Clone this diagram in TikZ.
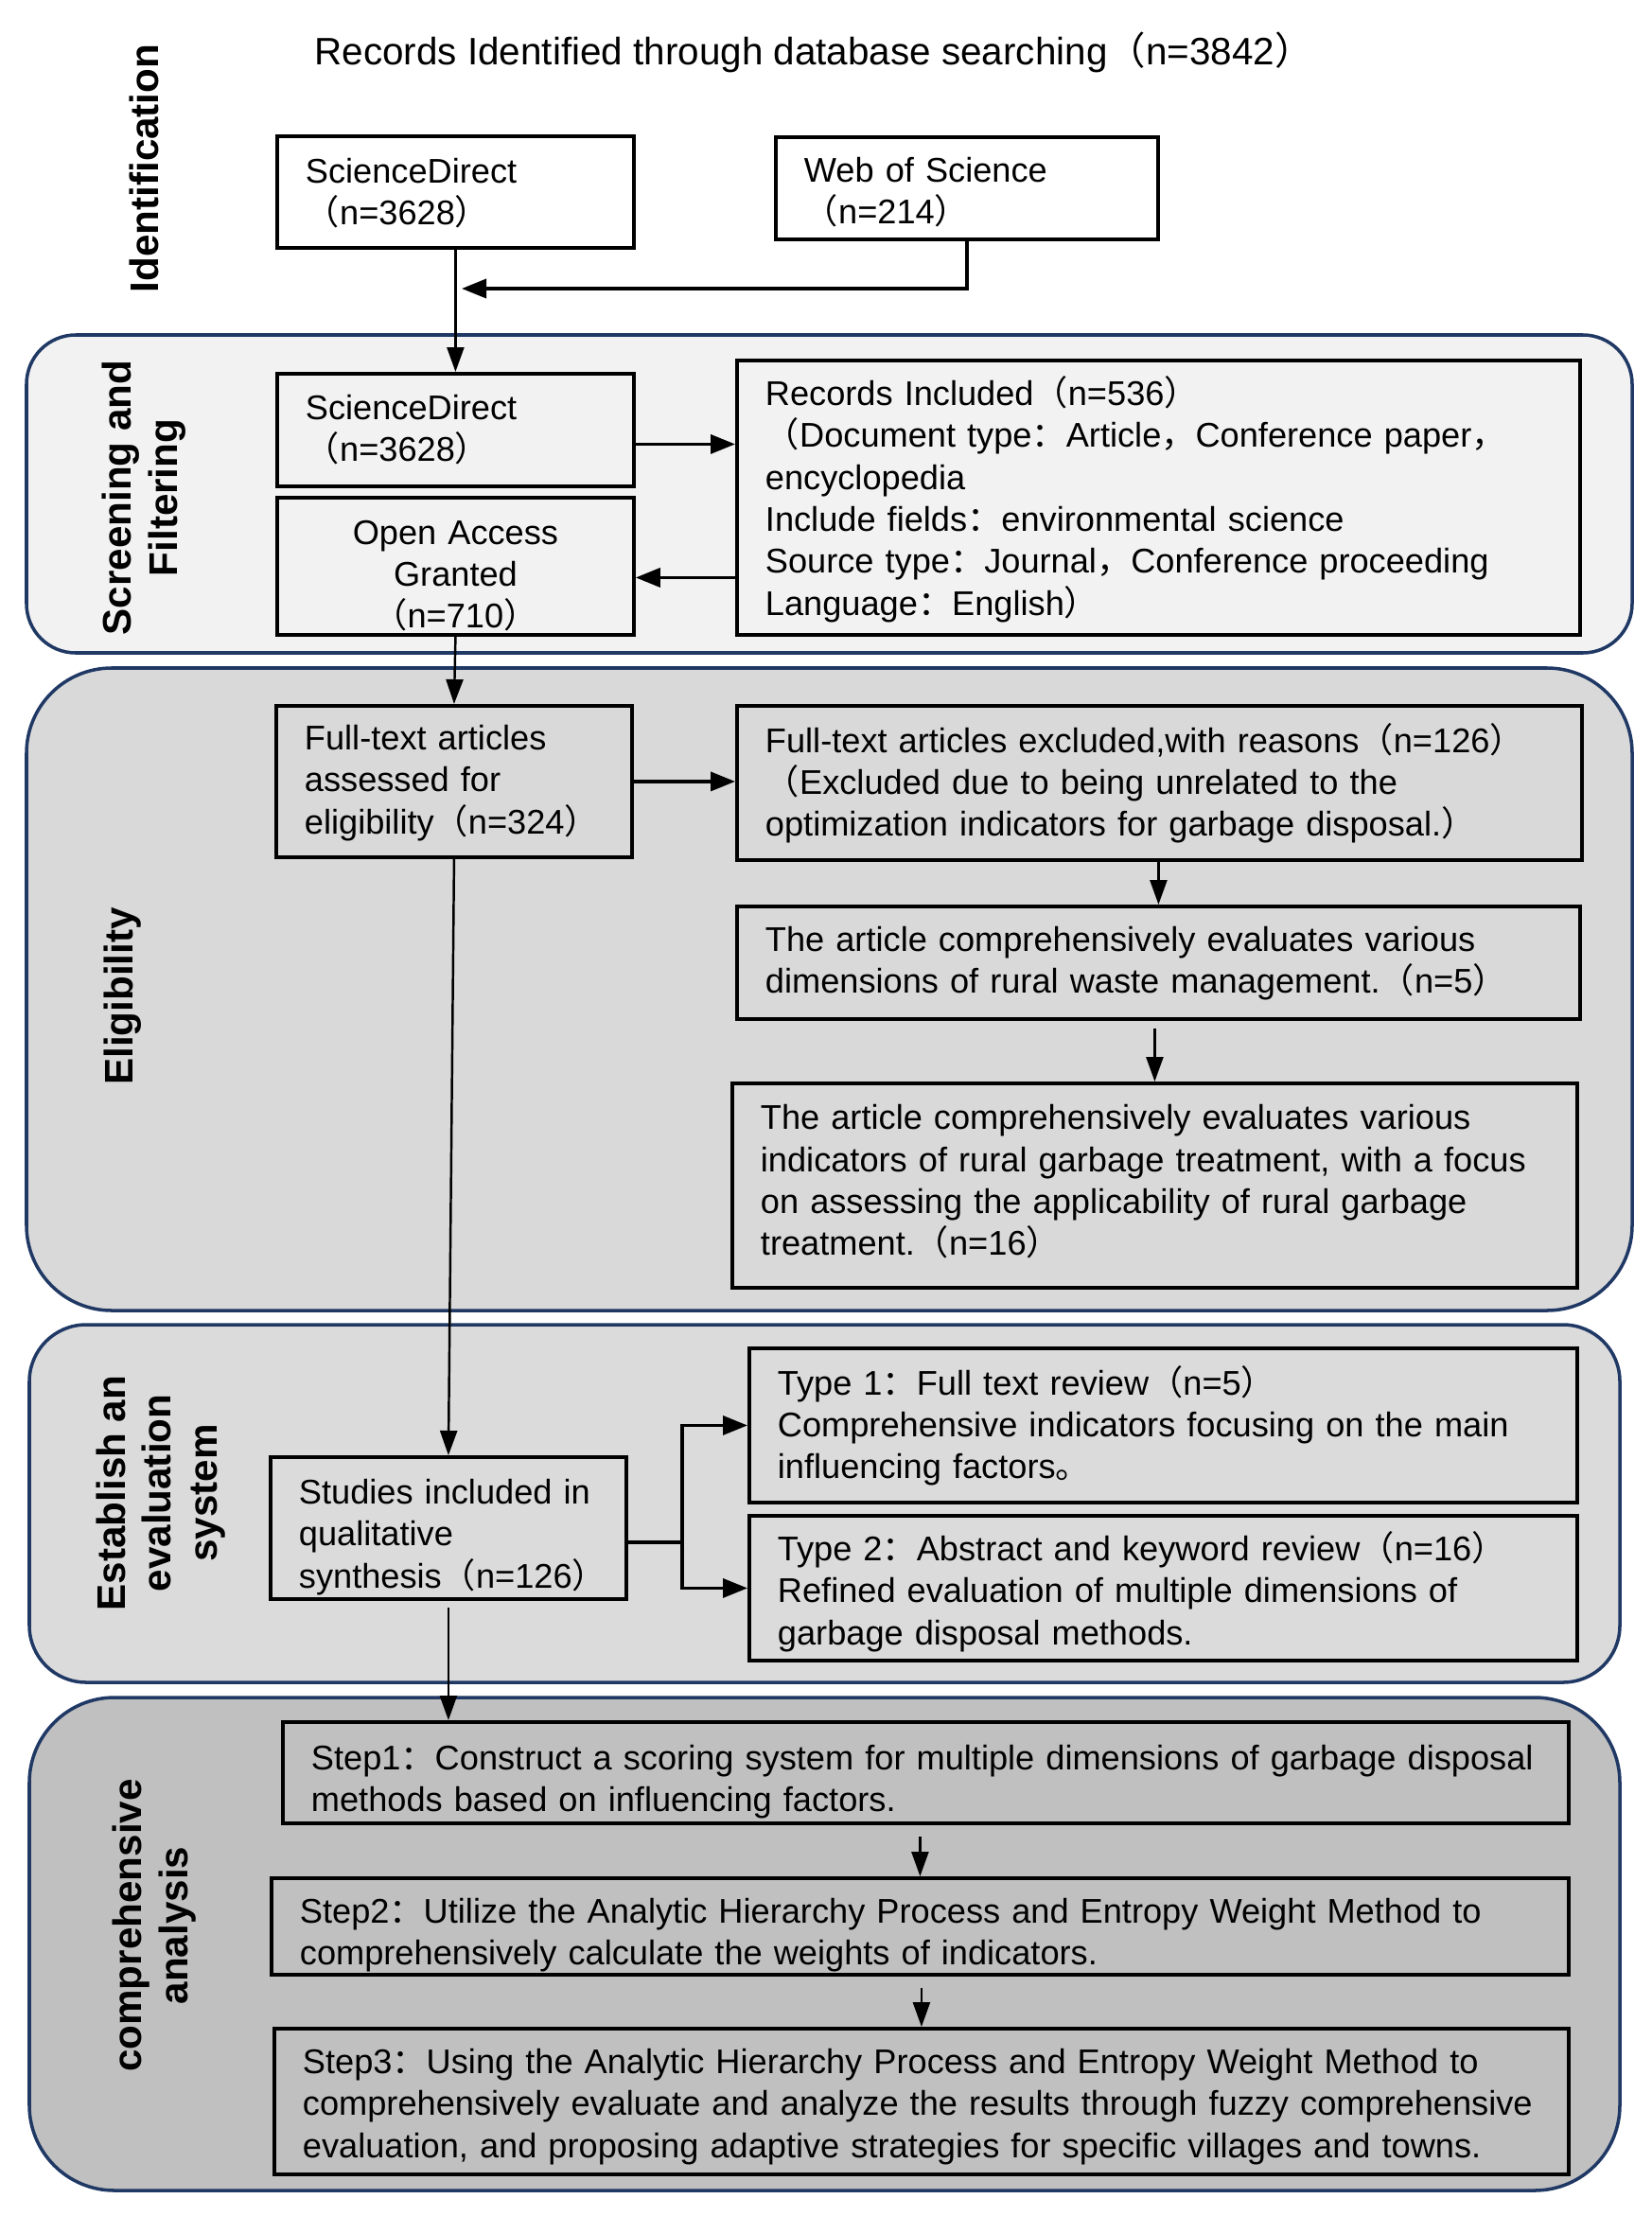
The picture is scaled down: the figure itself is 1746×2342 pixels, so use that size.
\documentclass[tikz,border=0pt]{standalone}
\usepackage{fontspec}
\setmainfont{Liberation Sans}
\newfontfamily\cjk{Noto Sans CJK SC}
\usetikzlibrary{arrows.meta,calc}
\definecolor{navy}{HTML}{1F3864}
\definecolor{scrfill}{HTML}{F2F2F2}
\definecolor{elifill}{HTML}{D9D9D9}
\definecolor{evafill}{HTML}{DBDBDB}
\definecolor{comfill}{HTML}{C0C0C0}
\newcommand\FWL{{\cjk （}}
\newcommand\FWR{{\cjk ）}}
\newcommand\FWC{{\cjk ：}}
\newcommand\FWM{{\cjk ，}}
\newcommand\FWS{{\cjk 。}}
\newcommand\ml[2][0]{\raisebox{-#1mm}[\height][\depth]{\begin{tabular}{@{}l@{}}#2\end{tabular}}}
\newcommand\mc[2][0]{\raisebox{-#1mm}[\height][\depth]{\begin{tabular}{@{}c@{}}#2\end{tabular}}}
\begin{document}
\begin{tikzpicture}[x=0.1mm,y=-0.1mm,
  bx/.style={draw, line width=1.1pt, anchor=north west, inner xsep=3mm, inner ysep=0pt,
    align=left, font=\fontsize{10.3}{12.6}\selectfont},
  panel/.style={draw=navy, line width=1pt},
  lbl/.style={font=\fontsize{12}{13.8}\selectfont\bfseries, align=center, inner sep=0pt},
  varr/.style={line width=0.7pt, -{Triangle[length=2.6mm,width=1.8mm]}},
  harr/.style={line width=1pt, -{Triangle[length=2.6mm,width=2mm]}}
  ]
\useasboundingbox (0,0) rectangle (1746,2342);
% panels
\draw[panel, fill=scrfill, rounded corners=5.2mm] (28,354) rectangle (1725,690);
\draw[panel, fill=elifill, rounded corners=9mm] (28,706) rectangle (1725,1385);
\draw[panel, fill=evafill, rounded corners=6mm] (31,1400) rectangle (1712,1778);
\draw[panel, fill=comfill, rounded corners=9mm] (31,1794) rectangle (1712,2315);

% labels
\node[lbl, rotate=90] (lid) at (152,178) {Identification};
\node[lbl, rotate=90] (lscr) at (152,526) {Screening and\\Filtering};
\node[lbl, rotate=90] (lel) at (130,1053) {Eligibility};
\node[lbl, rotate=90] (lev) at (170,1578) {Establish an\\evaluation\\system};
\node[lbl, rotate=90] (lco) at (163,2035) {comprehensive\\analysis};

% title
\node[font=\fontsize{11.5}{14}\selectfont, inner sep=0pt] (title) at (860,55)
  {Records Identified through database searching\FWL n=3842\FWR};

% identification
\node[bx, fill=white, minimum width=37.7mm, minimum height=11.8mm, text width=31.7mm] (sd1) at (291,142)
  {\ml[0.37]{ScienceDirect\\\FWL n=3628\FWR}};
\node[bx, fill=white, minimum width=40.4mm, minimum height=10.8mm, text width=34.4mm] (wos) at (818,143)
  {\ml[0.67]{Web of Science\\\FWL n=214\FWR}};

% screening
\node[bx, minimum width=37.7mm, minimum height=11.9mm, text width=31.7mm] (sd2) at (291,393)
  {\ml[0.22]{ScienceDirect\\\FWL n=3628\FWR}};
\node[bx, align=center, minimum width=37.7mm, minimum height=14.5mm, text width=31.7mm] (oa) at (291,524)
  {\mc[1.2]{Open Access\\Granted\\\FWL n=710\FWR}};
\node[bx, minimum width=89.1mm, minimum height=29.0mm, text width=83.1mm] (rec) at (777,379)
  {\ml[0.45]{Records Included\FWL n=536\FWR\\
  \FWL Document type\FWC Article\FWM Conference paper\FWM\\
  encyclopedia\\
  Include fields\FWC environmental science\\
  Source type\FWC Journal\FWM Conference proceeding\\
  Language\FWC English\FWR}};

% eligibility
\node[bx, minimum width=37.6mm, minimum height=16.0mm, text width=31.6mm] (ass) at (290,744)
  {\ml[0.2]{Full-text articles\\assessed for\\eligibility\FWL n=324\FWR}};
\node[bx, minimum width=89.3mm, minimum height=16.3mm, text width=83.3mm] (exc) at (777,744)
  {\ml[0.3]{Full-text articles excluded,with reasons\FWL n=126\FWR\\
  \FWL Excluded due to being unrelated to the\\
  optimization indicators for garbage disposal.\FWR}};
\node[bx, minimum width=89.1mm, minimum height=11.9mm, text width=83.1mm] (dim) at (777,956)
  {\ml[0.15]{The article comprehensively evaluates various\\
  dimensions of rural waste management.\FWL n=5\FWR}};
\node[bx, minimum width=89.3mm, minimum height=21.6mm, text width=83.3mm] (ind) at (772,1143)
  {\ml[-0.15]{The article comprehensively evaluates various\\
  indicators of rural garbage treatment, with a focus\\
  on assessing the applicability of rural garbage\\
  treatment.\FWL n=16\FWR}};

% evaluation
\node[bx, minimum width=37.6mm, minimum height=15.0mm, text width=31.6mm] (stu) at (284,1538)
  {\ml[1.0]{Studies included in\\qualitative\\synthesis\FWL n=126\FWR}};
\node[bx, minimum width=87.5mm, minimum height=16.3mm, text width=81.5mm] (t1) at (790,1423)
  {\ml[0.3]{Type 1\FWC Full text review\FWL n=5\FWR\\
  Comprehensive indicators focusing on the main\\
  influencing factors\FWS}};
\node[bx, minimum width=87.5mm, minimum height=15.3mm, text width=81.5mm] (t2) at (790,1600)
  {\ml[0.65]{Type 2\FWC Abstract and keyword review\FWL n=16\FWR\\
  Refined evaluation of multiple dimensions of\\
  garbage disposal methods.}};

% comprehensive
\node[bx, minimum width=135.9mm, minimum height=10.7mm, text width=129.9mm] (s1) at (297,1818)
  {\ml[1.0]{Step1\FWC Construct a scoring system for multiple dimensions of garbage disposal\\
  methods based on influencing factors.}};
\node[bx, minimum width=137.1mm, minimum height=10.2mm, text width=131.1mm] (s2) at (285,1983)
  {\ml[1.0]{Step2\FWC Utilize the Analytic Hierarchy Process and Entropy Weight Method to\\
  comprehensively calculate the weights of indicators.}};
\node[bx, minimum width=136.8mm, minimum height=15.4mm, text width=130.8mm] (s3) at (288,2142)
  {\ml[0.6]{Step3\FWC Using the Analytic Hierarchy Process and Entropy Weight Method to\\
  comprehensively evaluate and analyze the results through fuzzy comprehensive\\
  evaluation, and proposing adaptive strategies for specific villages and towns.}};

% connectors
\coordinate (j1) at (488,305);
\coordinate (a1) at ($(sd2.east)+(0,15)$);
\coordinate (a2) at ($(oa.east)+(0,12)$);
\draw[varr] (sd1.south) -- (sd2.north);
\draw[harr] (wos.south) |- (j1);
\draw[harr] (a1) -- (a1 -| rec.west);
\draw[harr] (a2 -| rec.west) -- (a2);
\draw[varr] (oa.south) -- (ass.north);
\draw[harr] (ass.east) -- (ass.east -| exc.west);
\draw[varr] (exc.south -| dim.north) -- (dim.north);
\draw[varr] ([yshift=-0.8mm]dim.south -| ind.north) -- (ind.north);
\draw[varr] (ass.south) -- (stu.north);
\coordinate (a3) at ($(stu.east)+(0,15)$);
\draw[line width=1pt] (a3) -- ++(57,0) coordinate (fork);
\draw[harr] (fork) |- (t1.west);
\draw[harr] (fork) |- (t2.west);
\draw[varr] ([yshift=-0.7mm]stu.south) -- (stu.south |- s1.north);
\draw[varr] ([yshift=-1.2mm]s1.south -| s2.north) -- (s2.north);
\draw[varr] ([yshift=-1.2mm]s2.south -| s3.north) -- (s3.north);
\end{tikzpicture}
\end{document}
